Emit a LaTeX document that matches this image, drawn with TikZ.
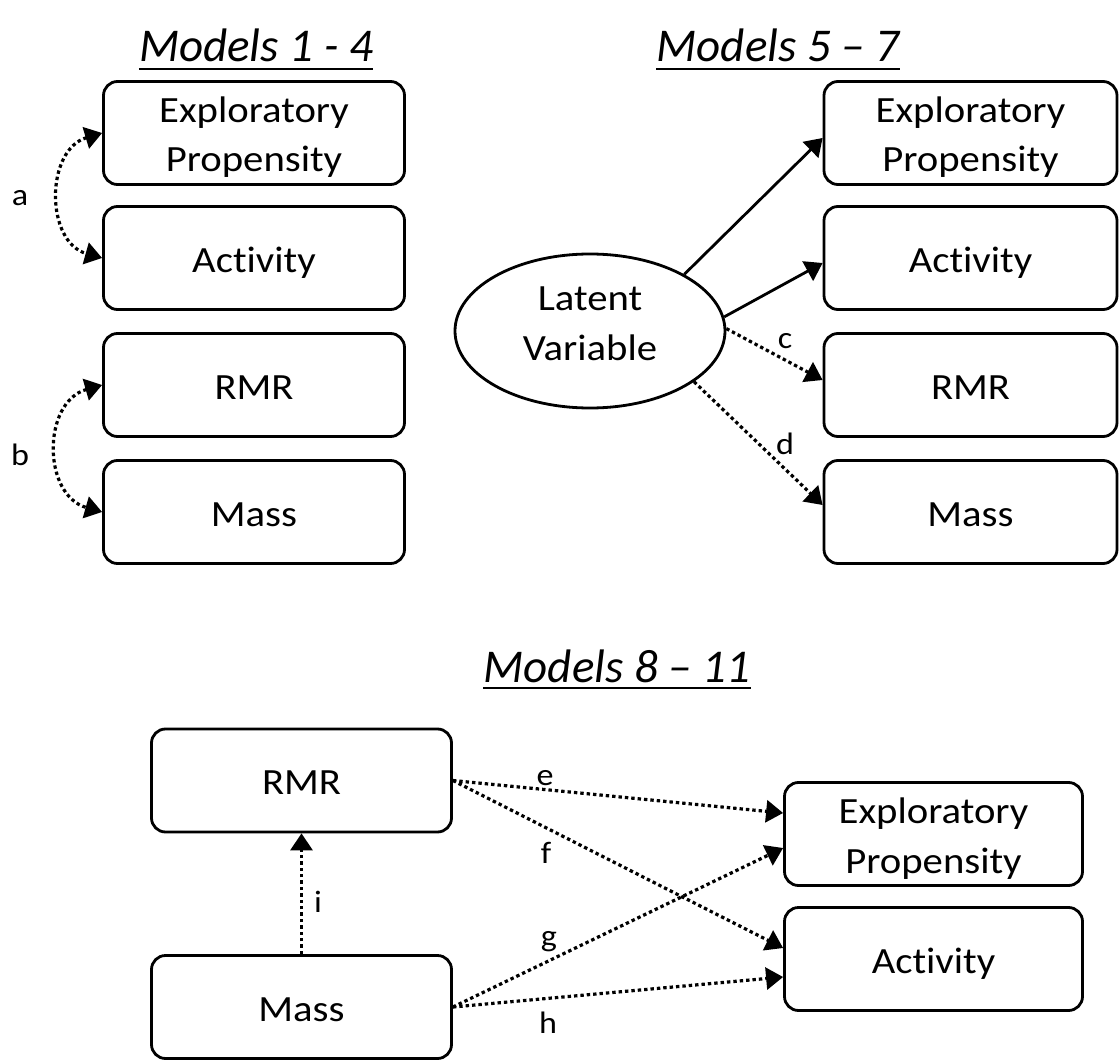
\documentclass[tikz,border=0pt]{standalone}
\usepackage{fontspec}
\setmainfont{Carlito}[Ligatures=NoCommon]
\newfontfamily\boxfont{Carlito}[Ligatures=NoCommon, FakeStretch=1.1]
\usetikzlibrary{arrows.meta,shapes.geometric}
\newcommand{\twolines}[4]{\rule{0pt}{#3}#1\\#2\rule[-#4]{0pt}{#4}}
\begin{document}
\begin{tikzpicture}[x=1pt,y=-1pt,
  boxbase/.style={draw, line width=2.8pt, rounded corners=14pt, minimum width=301pt, minimum height=103pt, inner sep=0pt, font=\boxfont\fontsize{37}{50}\selectfont, align=center},
  box/.style={boxbase, text height=28pt, text depth=0pt},
  ttl/.style={inner sep=0pt, anchor=base, font=\fontsize{47}{50}\selectfont\itshape},
  lbl/.style={inner sep=0pt, anchor=base, font=\boxfont\fontsize{31}{38}\selectfont},
  tip/.tip={Triangle[length=17pt,width=22pt]},
  sol/.style={line width=2.8pt, -tip},
  dotarrow/.style={sol, line width=3.2pt, dash pattern=on 3.4pt off 3pt},
  uline/.style={line width=2.6pt}
]
\useasboundingbox (0,0) rectangle (1120,1062);

% titles
\node[ttl] (t1) at (256,62) {Models 1 - 4};
\node[ttl] (t2) at (778,62) {Models 5 – 7};
\node[ttl] (t3) at (617,682) {Models 8 – 11};
\draw[uline] ([yshift=-7pt]t1.base west) -- ([yshift=-7pt]t1.base east);
\draw[uline] ([yshift=-7pt]t2.base west) -- ([yshift=-7pt]t2.base east);
\draw[uline] ([yshift=-6pt]t3.base west) -- ([yshift=-6pt]t3.base east);

% Models 1-4
\node[boxbase] (l1) at (254,133) {\twolines{Exploratory}{Propensity}{40pt}{12pt}};
\node[box] (l2) at (254,258) {Activity};
\node[box] (l3) at (254,385) {RMR};
\node[box] (l4) at (254,512) {Mass};
\draw[dotarrow, tip-tip] (l1.west) .. controls +(-57,17) and +(-57,-16) .. (l2.west);
\draw[dotarrow, tip-tip] (l3.west) .. controls +(-60,17) and +(-60,-17) .. (l4.west);
\node[lbl] (la) at (20,206) {a};
\node[lbl] (lb) at (20,465) {b};

% Models 5-7
\node[boxbase, minimum width=293pt] (r1) at (970.5,133) {\twolines{Exploratory}{Propensity}{40pt}{12pt}};
\node[box, minimum width=293pt] (r2) at (970.5,258) {Activity};
\node[box, minimum width=293pt] (r3) at (970.5,385) {RMR};
\node[box, minimum width=293pt] (r4) at (970.5,512) {Mass};
\node[draw, ellipse, line width=2.8pt, minimum width=270pt, minimum height=154pt, inner sep=0pt, font=\boxfont\fontsize{37}{50}\selectfont, align=center] (lv) at (590,331) {\twolines{Latent}{Variable}{30pt}{22pt}};
\draw[sol] (lv.31) -- ([yshift=-5pt]r1.west);
\draw[sol] (lv.6) -- ([yshift=-5pt]r2.west);
\draw[dotarrow] (lv.1) -- ([yshift=5pt]r3.west);
\draw[dotarrow] (lv.-26) -- ([yshift=7pt]r4.west);
\node[lbl] (lc) at (785,348) {c};
\node[lbl] (ld) at (785,454) {d};

% Models 8-11
\node[box, minimum width=300pt] (b1) at (301.5,780.5) {RMR};
\node[box, minimum width=300pt] (b2) at (301.5,1007) {Mass};
\node[boxbase, minimum width=298pt] (b3) at (933.5,834) {\twolines{Exploratory}{Propensity}{40pt}{12pt}};
\node[box, minimum width=298pt] (b4) at (933.5,959) {Activity};
\draw[dotarrow] (b1.east) -- ([yshift=21pt]b3.west);
\draw[dotarrow] (b1.east) -- ([yshift=11pt]b4.west);
\draw[dotarrow] (b2.east) -- ([yshift=-14pt]b3.west);
\draw[dotarrow] (b2.east) -- ([yshift=-18pt]b4.west);
\draw[dotarrow] (b2.north) -- (b1.south);
\node[lbl] (le) at (545,785) {e};
\node[lbl] (lf) at (546,863) {f};
\node[lbl] (lg) at (549,946) {g};
\node[lbl] (lh) at (548,1033) {h};
\node[lbl] (li) at (318,912) {i};
\end{tikzpicture}
\end{document}
